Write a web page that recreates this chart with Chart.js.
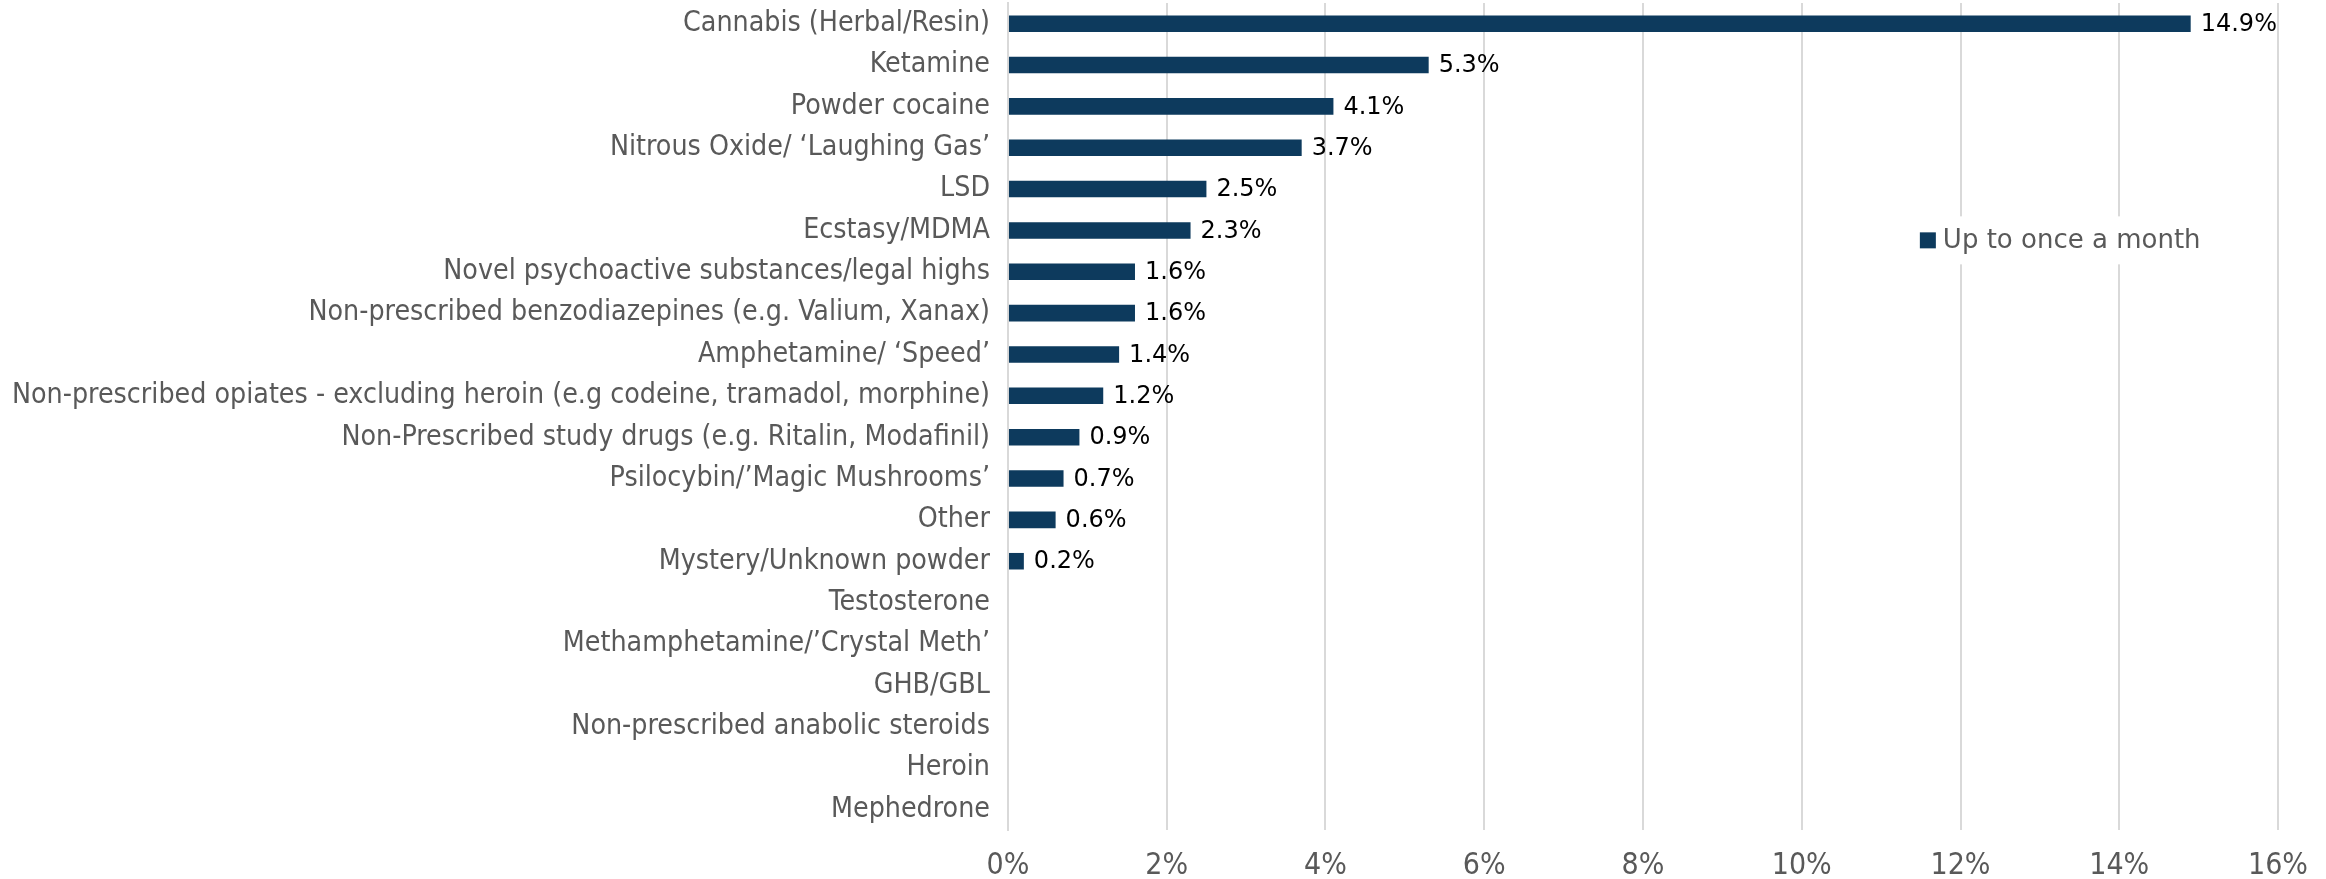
<!DOCTYPE html>
<html lang="en">
<head>
  <meta charset="UTF-8" />
  <title>Drug use - up to once a month</title>
  <script src="https://cdn.jsdelivr.net/npm/chart.js"></script>
  <style>
    body {
      margin: 0;
      background: #ffffff;
    }
    #wrap {
      width: 2326px;
      height: 879px;
    }
  </style>
</head>
<body>
  <div id="wrap">
    <canvas id="drugChart"></canvas>
  </div>

  <script>
    const categories = [
      "Cannabis (Herbal/Resin)",
      "Ketamine",
      "Powder cocaine",
      "Nitrous Oxide/ \u2018Laughing Gas\u2019",
      "LSD",
      "Ecstasy/MDMA",
      "Novel psychoactive substances/legal highs",
      "Non-prescribed benzodiazepines (e.g. Valium, Xanax)",
      "Amphetamine/ \u2018Speed\u2019",
      "Non-prescribed opiates - excluding heroin (e.g codeine, tramadol, morphine)",
      "Non-Prescribed study drugs (e.g. Ritalin, Modafinil)",
      "Psilocybin/\u2019Magic Mushrooms\u2019",
      "Other",
      "Mystery/Unknown powder",
      "Testosterone",
      "Methamphetamine/\u2019Crystal Meth\u2019",
      "GHB/GBL",
      "Non-prescribed anabolic steroids",
      "Heroin",
      "Mephedrone"
    ];
    const upToOnceAMonth = [14.9, 5.3, 4.1, 3.7, 2.5, 2.3, 1.6, 1.6, 1.4, 1.2, 0.9, 0.7, 0.6, 0.2, 0, 0, 0, 0, 0, 0];
    const seriesLabel = "Up to once a month";
    const xTicks = [0, 2, 4, 6, 8, 10, 12, 14, 16];

    const barColor = "#0d3a5d";
    const greyText = "#595959";

    // value labels at the end of each bar
    const valueLabels = {
      id: "valueLabels",
      afterDatasetsDraw(chart) {
        const ctx = chart.ctx;
        const meta = chart.getDatasetMeta(0);
        ctx.save();
        ctx.font = "24px 'DejaVu Sans'";
        ctx.fillStyle = "#000000";
        ctx.textAlign = "left";
        ctx.textBaseline = "middle";
        meta.data.forEach((bar, i) => {
          const v = upToOnceAMonth[i];
          if (!v) return;
          ctx.fillText(v.toFixed(1) + "%", bar.x + 10, bar.y + 1);
        });
        ctx.restore();
      }
    };

    // legend sitting inside the plot area, like the original
    const insideLegend = {
      id: "insideLegend",
      afterDraw(chart) {
        const ca = chart.chartArea;
        const ctx = chart.ctx;
        const x = ca.left + (ca.right - ca.left) * 0.718;
        const y = ca.top + (ca.bottom - ca.top) * 0.287;
        ctx.save();
        ctx.font = "26px 'DejaVu Sans'";
        const w = ctx.measureText(seriesLabel).width;
        ctx.fillStyle = "#ffffff";
        ctx.fillRect(x - 12, y - 24, w + 44, 48);
        ctx.fillStyle = barColor;
        ctx.fillRect(x, y - 8, 16, 16);
        ctx.fillStyle = greyText;
        ctx.textBaseline = "middle";
        ctx.fillText(seriesLabel, x + 23, y + 1);
        ctx.restore();
      }
    };

    new Chart(document.getElementById("drugChart"), {
      type: "bar",
      data: {
        labels: categories,
        datasets: [{
          label: seriesLabel,
          data: upToOnceAMonth,
          backgroundColor: barColor,
          categoryPercentage: 1,
          barPercentage: 0.4
        }]
      },
      options: {
        indexAxis: "y",
        responsive: true,
        maintainAspectRatio: false,
        animation: false,
        layout: {
          padding: { left: -6, right: 36, top: 3, bottom: -23 }
        },
        plugins: {
          legend: { display: false },
          tooltip: { enabled: false }
        },
        scales: {
          x: {
            min: 0,
            max: 16,
            afterBuildTicks(axis) {
              axis.ticks = xTicks.map(v => ({ value: v }));
            },
            afterFit(axis) {
              axis.paddingLeft = 0;
            },
            grid: {
              color: "#d9d9d9",
              lineWidth: 2,
              drawTicks: false
            },
            border: { display: false },
            ticks: {
              color: greyText,
              padding: 18,
              font: { family: "'DejaVu Sans Condensed'", size: 30 },
              callback: v => v + "%"
            }
          },
          y: {
            grid: { display: false, drawTicks: false },
            border: { color: "#d9d9d9", width: 2 },
            afterFit(axis) {
              // bars fill the full height, no half-label gap top/bottom
              axis.paddingTop = 0;
              axis.paddingBottom = 0;
            },
            ticks: {
              color: greyText,
              padding: 18,
              autoSkip: false,
              font: { family: "'DejaVu Sans Condensed'", size: 28.3 }
            }
          }
        }
      },
      plugins: [valueLabels, insideLegend]
    });
  </script>
</body>
</html>
